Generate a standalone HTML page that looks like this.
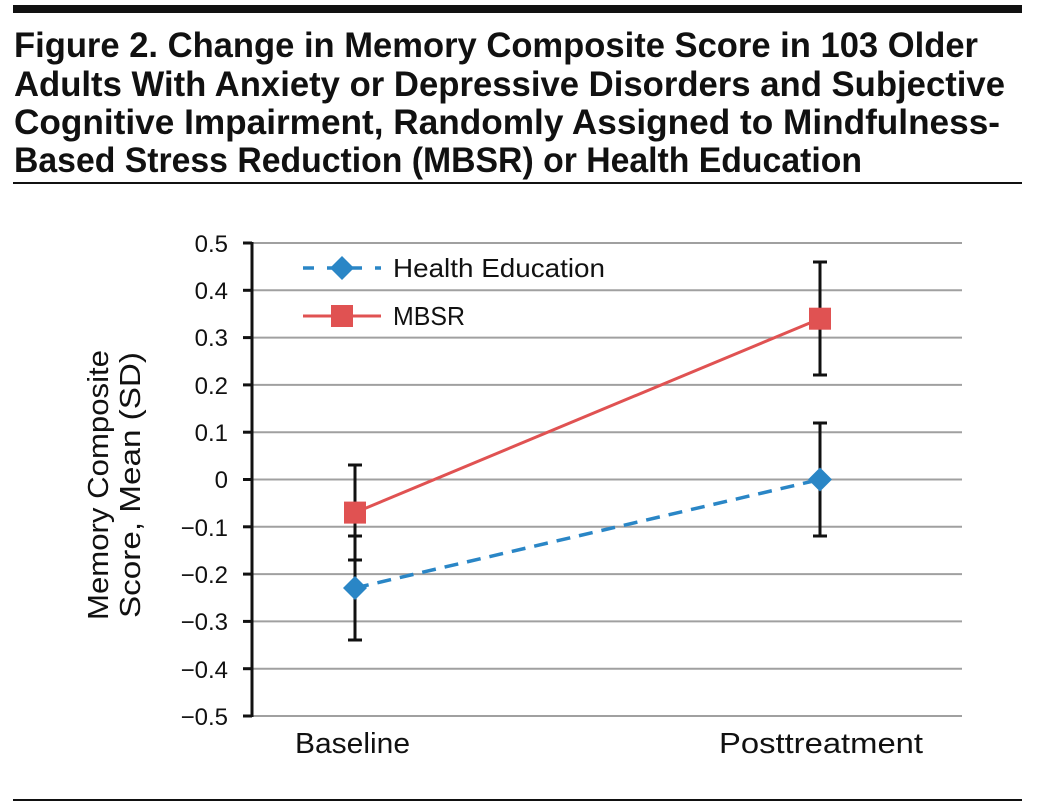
<!DOCTYPE html>
<html><head><meta charset="utf-8"><style>body{margin:0;background:#fff}svg{display:block}</style></head><body>
<svg width="1037" height="810" xmlns="http://www.w3.org/2000/svg" font-family="Liberation Sans, sans-serif">
<rect x="13" y="5" width="1009" height="8" fill="#111"/>
<g font-weight="bold" font-size="35" fill="#111">
<text x="14" y="57" textLength="964" lengthAdjust="spacingAndGlyphs">Figure 2. Change in Memory Composite Score in 103 Older</text>
<text x="14" y="96" textLength="991" lengthAdjust="spacingAndGlyphs">Adults With Anxiety or Depressive Disorders and Subjective</text>
<text x="14" y="134" textLength="986" lengthAdjust="spacingAndGlyphs">Cognitive Impairment, Randomly Assigned to Mindfulness-</text>
<text x="14" y="172" textLength="848" lengthAdjust="spacingAndGlyphs">Based Stress Reduction (MBSR) or Health Education</text>
</g>
<rect x="13" y="182" width="1009" height="2" fill="#111"/>
<rect x="13" y="799" width="1009" height="2" fill="#111"/>
<g stroke="#a0a0a0" stroke-width="2">
<line x1="252" x2="962" y1="243" y2="243"/><line x1="252" x2="962" y1="290.3" y2="290.3"/><line x1="252" x2="962" y1="337.6" y2="337.6"/><line x1="252" x2="962" y1="384.9" y2="384.9"/><line x1="252" x2="962" y1="432.2" y2="432.2"/><line x1="252" x2="962" y1="479.5" y2="479.5"/><line x1="252" x2="962" y1="526.8" y2="526.8"/><line x1="252" x2="962" y1="574.1" y2="574.1"/><line x1="252" x2="962" y1="621.4" y2="621.4"/><line x1="252" x2="962" y1="668.7" y2="668.7"/><line x1="252" x2="962" y1="716" y2="716"/>
</g>
<g stroke="#111" stroke-width="3">
<line x1="252" x2="252" y1="242" y2="717"/>
<line x1="243" x2="252" y1="243" y2="243"/><line x1="243" x2="252" y1="290.3" y2="290.3"/><line x1="243" x2="252" y1="337.6" y2="337.6"/><line x1="243" x2="252" y1="384.9" y2="384.9"/><line x1="243" x2="252" y1="432.2" y2="432.2"/><line x1="243" x2="252" y1="479.5" y2="479.5"/><line x1="243" x2="252" y1="526.8" y2="526.8"/><line x1="243" x2="252" y1="574.1" y2="574.1"/><line x1="243" x2="252" y1="621.4" y2="621.4"/><line x1="243" x2="252" y1="668.7" y2="668.7"/><line x1="243" x2="252" y1="716" y2="716"/>
</g>
<g font-size="24" fill="#111" text-anchor="end">
<text x="228" y="252">0.5</text><text x="228" y="299">0.4</text><text x="228" y="346">0.3</text><text x="228" y="394">0.2</text><text x="228" y="441">0.1</text><text x="228" y="488">0</text><text x="228" y="536">−0.1</text><text x="228" y="583">−0.2</text><text x="228" y="630">−0.3</text><text x="228" y="678">−0.4</text><text x="228" y="725">−0.5</text>
</g>
<g font-size="29" fill="#111">
<text x="295" y="753" textLength="115" lengthAdjust="spacingAndGlyphs">Baseline</text>
<text x="719" y="753" textLength="204" lengthAdjust="spacingAndGlyphs">Posttreatment</text>
<text transform="translate(108,620) rotate(-90)" textLength="270" lengthAdjust="spacingAndGlyphs">Memory Composite</text>
<text transform="translate(140,618) rotate(-90)" textLength="266" lengthAdjust="spacingAndGlyphs">Score, Mean (SD)</text>
</g>
<g stroke="#111" stroke-width="3">
<line x1="355" x2="355" y1="465" y2="560"/><line x1="348" x2="362" y1="465" y2="465"/><line x1="348" x2="362" y1="560" y2="560"/>
<line x1="355" x2="355" y1="536" y2="640"/><line x1="348" x2="362" y1="536" y2="536"/><line x1="348" x2="362" y1="640" y2="640"/>
<line x1="820" x2="820" y1="262" y2="375"/><line x1="813" x2="827" y1="262" y2="262"/><line x1="813" x2="827" y1="375" y2="375"/>
<line x1="820" x2="820" y1="423" y2="536"/><line x1="813" x2="827" y1="423" y2="423"/><line x1="813" x2="827" y1="536" y2="536"/>
</g>
<line x1="355" y1="512.6" x2="820" y2="318.7" stroke="#e05252" stroke-width="3"/>
<line x1="355" y1="588" x2="820" y2="479.5" stroke="#2a86c6" stroke-width="3.5" stroke-dasharray="14,9"/>
<rect x="344" y="501.6" width="22" height="22" fill="#e05252"/>
<rect x="809" y="307.7" width="22" height="22" fill="#e05252"/>
<polygon points="355,576 367,588 355,600 343,588" fill="#2a86c6"/>
<polygon points="820,467.5 832,479.5 820,491.5 808,479.5" fill="#2a86c6"/>
<line x1="303" x2="381" y1="268" y2="268" stroke="#2a86c6" stroke-width="3.5" stroke-dasharray="11,13"/>
<polygon points="342,256 354,268 342,280 330,268" fill="#2a86c6"/>
<line x1="303" x2="381" y1="316" y2="316" stroke="#e05252" stroke-width="3"/>
<rect x="331" y="305" width="22" height="22" fill="#e05252"/>
<g font-size="26" fill="#111"><text x="393" y="277" textLength="212" lengthAdjust="spacingAndGlyphs">Health Education</text><text x="393" y="325" textLength="72" lengthAdjust="spacingAndGlyphs">MBSR</text></g>
</svg>
</body></html>
